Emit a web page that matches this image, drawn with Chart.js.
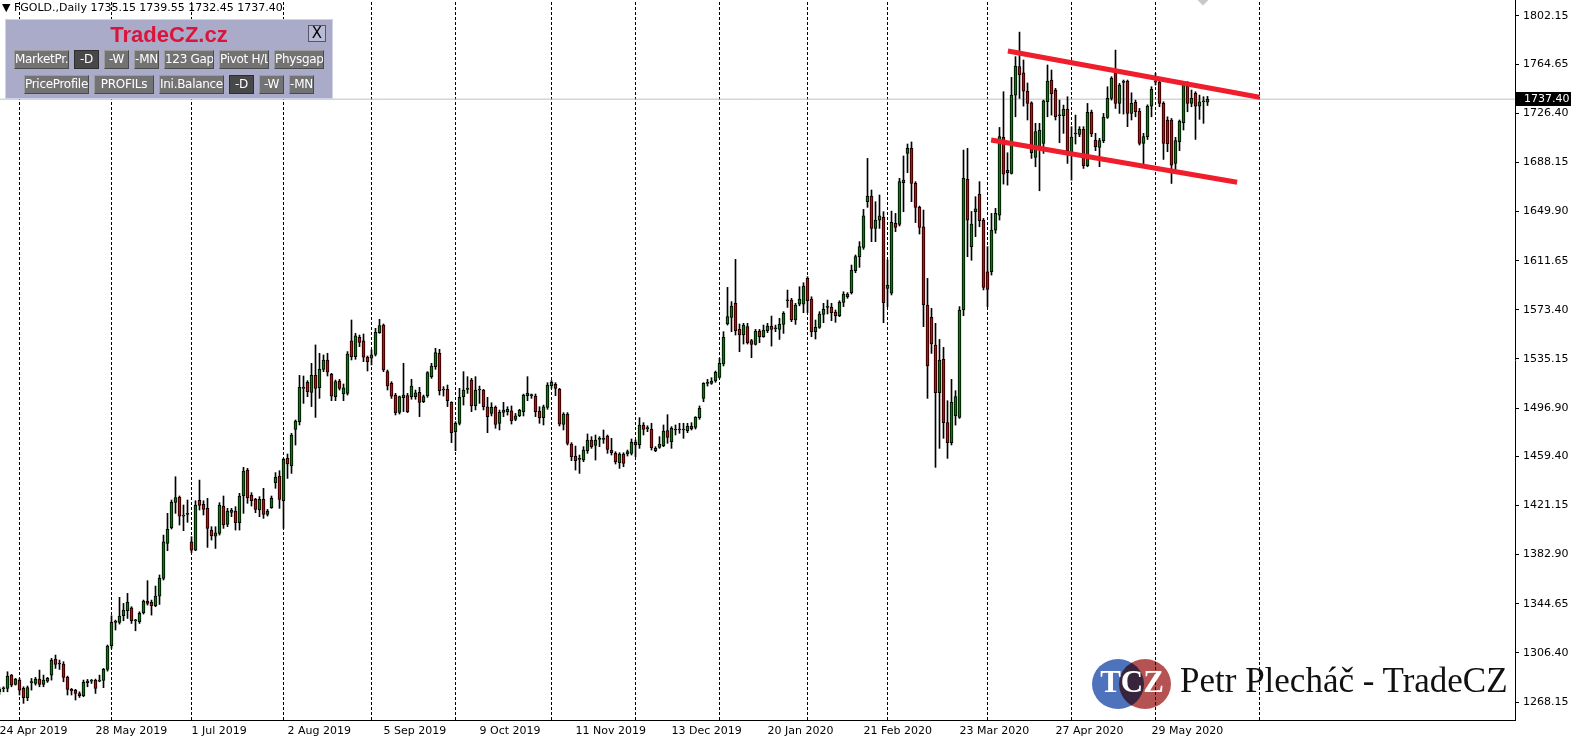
<!DOCTYPE html>
<html><head><meta charset="utf-8">
<script src="https://cdn.jsdelivr.net/npm/chart.js@4.4.1/dist/chart.umd.min.js"></script>
<style>
html,body{margin:0;padding:0;background:#fff;overflow:hidden}
#wrap{position:relative;width:1572px;height:740px;overflow:hidden}
canvas{position:absolute;left:0;top:0}
.ov{position:absolute;white-space:nowrap}
#hdr{left:2px;top:1px;font:11px "DejaVu Sans",sans-serif;color:#000}
#panel{left:5px;top:19px;width:328px;height:80px;background:#a9abc8;border:1px solid #d0d2e6;box-sizing:border-box}
#title{left:0;width:326px;top:2px;text-align:center;font:bold 22px "Liberation Sans",Arial,sans-serif;color:#dc143c}
#xbtn{left:302px;top:5px;width:18px;height:17px;background:#b9bbd6;border:1px solid #55566a;box-sizing:border-box;font:15px "DejaVu Sans",sans-serif;line-height:15px;text-align:center;color:#000}
.btn{position:absolute;height:19px;background:#737373;border-top:1px solid #9c9c9c;border-left:1px solid #9c9c9c;border-right:1px solid #4a4a4a;border-bottom:1px solid #4a4a4a;box-sizing:border-box;color:#fff;font:12px "DejaVu Sans",sans-serif;line-height:17px;text-align:center;overflow:hidden;white-space:nowrap;letter-spacing:-0.3px}
.btn.sel{background:#484848;border-color:#2e2e2e}
#logoTxt{left:1180px;top:661px;font:35px "Liberation Serif","DejaVu Serif",serif;color:#111}
.circ{position:absolute;width:52px;height:50px;border-radius:50%;mix-blend-mode:multiply}
#tcz{left:1093px;top:664px;width:78px;text-align:center;font:bold 31px "Liberation Serif",serif;color:#fff}
#diam{left:1197px;top:-9px;width:12px;height:12px;background:#c8c8c8;transform:rotate(45deg)}
</style></head><body>
<div id="wrap">
<canvas id="c" width="1572" height="740"></canvas>
<div id="hdr" class="ov"></div>
<div id="diam" class="ov"></div>
<div id="panel" class="ov">
  <div id="title" class="ov">TradeCZ.cz</div>
  <div id="xbtn" class="ov">X</div>
  <div class="btn" style="left:8px;top:30px;width:55px">MarketPr.</div>
  <div class="btn sel" style="left:68px;top:30px;width:25px">-D</div>
  <div class="btn" style="left:98px;top:30px;width:25px">-W</div>
  <div class="btn" style="left:128px;top:30px;width:25px">-MN</div>
  <div class="btn" style="left:158px;top:30px;width:50px">123 Gap</div>
  <div class="btn" style="left:213px;top:30px;width:50px">Pivot H/L</div>
  <div class="btn" style="left:268px;top:30px;width:50px">Physgap</div>
  <div class="btn" style="left:18px;top:55px;width:65px">PriceProfile</div>
  <div class="btn" style="left:88px;top:55px;width:60px">PROFILs</div>
  <div class="btn" style="left:153px;top:55px;width:65px">Ini.Balance</div>
  <div class="btn sel" style="left:223px;top:55px;width:25px">-D</div>
  <div class="btn" style="left:253px;top:55px;width:25px">-W</div>
  <div class="btn" style="left:283px;top:55px;width:25px">-MN</div>
</div>
<div class="circ" style="left:1092px;top:659px;background:#4f72bd"></div>
<div class="circ" style="left:1119px;top:659px;background:#b55252"></div>
<div id="tcz" class="ov">TCZ</div>
<div id="logoTxt" class="ov">Petr Plecháč - TradeCZ</div>
</div>
<script>
// ---- data (daily FGOLD candles, bar index 0 = 24 Apr 2019) ----
const symbol = "FGOLD.";
const timeframe = "Daily";
const opens = [
1276.1,1278.5,1278.7,1289.1,1281.9,1285.2,1278.7,1271.5,1283.2,1282.6,
1286.0,1281.9,1284.4,1289.1,1301.6,1297.7,1297.7,1287.3,1278.0,1277.4,
1274.8,1273.0,1283.2,1284.4,1285.2,1284.4,1285.0,1293.5,1312.0,1330.1,
1330.1,1335.3,1339.2,1341.5,1331.4,1330.6,1337.6,1346.7,1345.7,1343.1,
1350.6,1364.4,1391.6,1403.8,1423.5,1427.4,1412.9,1414.2,1392.9,1386.4,
1425.1,1422.0,1418.9,1402.0,1397.3,1399.4,1420.7,1406.4,1415.8,1416.8,
1407.7,1428.5,1448.7,
1429.3,1425.9,1417.6,1425.9,1414.2,1419.4,1438.9,
1444.1,1424.9,1457.8,1451.9,1480.4,1486.4,1512.3,1517.0,1509.2,1522.4,
1512.8,1527.1,1534.4,1523.2,1505.8,1518.0,1507.9,1508.4,1549.2,1537.0,
1552.0,1549.2,1536.5,1535.7,1538.8,1555.7,1561.6,1525.3,1516.2,1507.1,
1493.6,1505.1,1506.6,1505.8,1505.8,1509.2,1501.9,1506.6,1521.4,1529.2,
1539.6,1511.0,1511.5,1501.4,1478.6,1485.1,1505.8,1511.5,1518.8,1498.8,
1511.0,1511.0,1498.0,
1492.8,1497.5,1485.1,1493.6,1494.1,1494.9,1488.2,
1491.0,1494.1,1506.6,1506.6,1506.3,1494.7,1489.5,1497.5,1514.4,1515.4,
1511.5,1484.3,1492.3,1469.0,1459.6,1457.0,1456.5,1463.8,1472.1,1467.9,
1472.6,1472.6,1475.2,1464.3,1461.7,1454.4,1461.2,1461.2,1461.7,1470.3,
1468.2,1483.8,1480.9,1480.4,1463.8,1466.4,1467.7,1479.4,1470.8,1479.9,
1479.9,1479.9,1479.4,1483.0,1481.9,1489.5,1504.5,1516.2,1516.2,1518.0,
1520.9,1531.3,1562.4,
1567.6,1578.5,1558.2,1553.8,1560.3,1549.4,1546.5,
1556.9,1552.5,1557.2,1560.8,1558.7,1558.2,1562.1,1580.5,1581.0,1565.5,
1577.9,1577.9,1597.9,1581.8,1556.4,1559.8,1569.9,1575.3,1575.3,1571.7,
1568.9,1579.2,1585.7,1586.8,1603.9,1614.8,1622.1,1657.6,1662.0,1636.8,
1643.3,1645.4,1590.1,1586.3,1640.7,1640.0,1672.4,1695.2,1699.1,1671.9,
1653.2,1638.1,1577.2,1567.6,1546.0,1508.9,1534.9,1485.6,1470.0,1491.0,
1489.7,1573.3,1675.0,1622.6,1649.8,1663.3,1643.3,1603.1,1603.1,1635.5,
1647.2,1707.7,1680.1,1679.6,1740.6,1762.7,1758.0,1743.7,1734.6,1692.1,
1699.1,1703.0,1735.4,1752.3,1744.5,1724.5,1724.5,1729.5,1696.2,1710.3,
1710.0,1713.9,1685.6,1727.1,1705.6,1699.9,1705.1,1723.2,1738.0,1757.5,
1734.1,1750.5,1751.5,1726.3,1734.9,1728.2,1703.0,1708.2,1732.0,1750.7,
1750.7,1734.1,1721.2,1721.2,1687.4,1704.3,1719.1,1747.6,1734.1,1741.9,
1732.0,1735.4,1735.15];
const highs = [
1279.3,1280.0,1291.7,1289.6,1286.5,1286.5,1280.0,1280.6,1286.5,1287.3,
1293.0,1289.1,1287.3,1302.1,1304.7,1300.8,1299.5,1288.3,1278.7,1278.0,
1276.1,1285.2,1285.7,1285.7,1286.0,1289.1,1294.3,1312.5,1335.3,1331.9,
1349.6,1344.9,1352.7,1342.3,1332.5,1338.4,1347.5,1362.6,1347.5,1358.4,
1367.0,1398.1,1415.0,1425.4,1443.5,1428.5,1421.5,1425.4,1396.8,1424.8,
1440.9,1424.8,1426.7,1404.6,1404.6,1423.3,1428.5,1418.9,1418.9,1420.2,
1430.6,1450.8,1450.0,
1431.1,1426.7,1428.0,1434.5,1418.1,1428.5,1446.7,
1448.2,1457.8,1461.2,1477.3,1487.7,1522.4,1521.9,1518.3,1531.8,1546.1,
1539.6,1538.3,1539.6,1524.0,1518.8,1519.3,1515.7,1540.9,1565.5,1555.1,
1553.8,1554.6,1537.5,1542.2,1559.0,1566.0,1562.4,1526.6,1517.5,1508.4,
1506.3,1531.8,1508.4,1519.3,1511.0,1513.1,1507.1,1525.3,1531.8,1543.5,
1542.7,1513.6,1514.9,1501.9,1486.4,1512.3,1525.3,1521.4,1520.1,1521.4,
1514.1,1511.5,1505.3,
1501.1,1498.6,1495.4,1501.4,1498.0,1498.6,1492.8,
1496.0,1507.8,1521.4,1507.9,1507.9,1498.0,1499.3,1516.7,1518.3,1516.7,
1512.3,1493.4,1493.4,1470.0,1467.4,1460.4,1466.9,1476.8,1474.7,1476.0,
1474.7,1479.9,1476.0,1473.4,1463.0,1462.2,1462.2,1464.3,1472.9,1472.1,
1489.5,1485.6,1483.2,1485.1,1466.9,1474.7,1483.8,1491.8,1482.5,1483.8,
1485.1,1485.1,1485.1,1485.6,1490.3,1498.6,1516.7,1519.3,1520.6,1525.8,
1535.7,1556.4,1590.9,
1579.8,1612.7,1562.4,1562.9,1562.9,1550.4,1558.2,
1558.2,1561.6,1562.9,1568.6,1561.6,1566.8,1572.0,1588.8,1582.4,1578.5,
1591.4,1594.5,1599.2,1583.6,1565.5,1572.0,1578.5,1581.0,1578.5,1573.3,
1580.5,1587.5,1586.8,1608.3,1616.1,1626.5,1651.6,1691.3,1666.7,1657.6,
1662.8,1649.8,1612.2,1650.3,1648.5,1675.8,1693.2,1702.5,1704.1,1673.2,
1654.2,1651.1,1597.9,1574.6,1562.9,1550.4,1544.2,1502.7,1519.3,1510.5,
1575.9,1697.8,1699.1,1650.0,1661.5,1673.2,1644.6,1622.6,1648.5,1652.4,
1715.4,1743.2,1695.7,1754.4,1770.5,1789.6,1767.9,1750.0,1735.4,1718.6,
1718.6,1736.7,1764.0,1760.1,1745.8,1736.7,1732.8,1739.3,1716.0,1725.0,
1716.0,1716.0,1734.1,1728.9,1710.8,1706.9,1726.3,1747.1,1754.9,1775.6,
1749.7,1752.3,1752.3,1742.4,1736.7,1730.2,1710.8,1733.0,1747.1,1757.5,
1752.3,1735.4,1723.7,1722.4,1707.7,1721.2,1749.7,1751.0,1744.5,1743.2,
1740.6,1739.3,1739.55];
const lows = [
1274.1,1276.1,1276.1,1280.0,1281.3,1273.6,1267.1,1269.2,1277.4,1281.3,
1280.0,1280.0,1283.4,1285.2,1294.3,1293.5,1283.9,1273.6,1273.6,1269.7,
1271.7,1272.3,1280.0,1282.6,1274.8,1283.9,1279.3,1292.2,1309.9,1324.2,
1328.8,1331.4,1333.2,1329.3,1323.6,1329.3,1336.6,1343.6,1335.8,1342.3,
1344.1,1363.1,1385.9,1402.8,1415.0,1405.9,1401.5,1408.0,1384.4,1385.9,
1417.6,1413.7,1388.5,1394.2,1387.7,1398.1,1403.3,1404.6,1412.4,1402.0,
1402.0,1415.0,1422.8,
1420.7,1415.5,1412.4,1411.1,1412.9,1418.9,1434.5,
1418.9,1403.3,1442.2,1446.1,1468.2,1483.8,1500.6,1505.8,1498.1,1489.7,
1504.5,1525.3,1521.9,1502.7,1502.7,1511.0,1502.7,1507.1,1534.4,1534.9,
1544.8,1533.1,1525.8,1530.5,1537.5,1555.1,1525.3,1511.0,1504.5,1491.6,
1492.3,1494.2,1493.4,1503.8,1503.8,1490.3,1501.2,1505.3,1520.1,1527.1,
1507.1,1506.3,1498.1,1470.0,1463.8,1483.8,1499.3,1508.4,1494.2,1495.5,
1500.6,1495.5,1477.8,
1490.8,1481.2,1479.9,1490.3,1491.5,1484.5,1487.1,
1490.3,1490.8,1502.7,1504.5,1490.3,1485.1,1483.8,1496.0,1512.3,1506.6,
1483.0,1479.9,1468.2,1456.0,1448.7,1446.1,1455.2,1461.7,1465.6,1456.5,
1466.9,1469.5,1461.7,1460.4,1453.4,1450.0,1451.3,1459.6,1460.4,1459.1,
1465.6,1476.0,1478.6,1464.3,1463.0,1465.6,1466.9,1469.5,1465.6,1476.0,
1477.3,1473.4,1477.8,1479.9,1480.6,1488.2,1501.9,1514.1,1515.4,1517.0,
1520.1,1529.7,1561.6,
1556.4,1553.8,1540.8,1546.8,1546.8,1536.2,1546.0,
1547.8,1552.0,1555.6,1545.2,1556.4,1550.4,1555.1,1575.3,1564.2,1562.1,
1576.6,1571.2,1571.2,1552.5,1550.7,1559.0,1563.4,1570.2,1565.0,1563.7,
1568.1,1575.9,1582.4,1585.7,1602.3,1606.5,1620.5,1653.2,1626.5,1626.5,
1636.8,1563.4,1575.9,1585.0,1634.3,1638.7,1649.8,1680.2,1657.6,1641.3,
1632.4,1560.3,1504.5,1539.5,1450.8,1465.6,1473.4,1457.8,1468.2,1483.7,
1488.9,1568.9,1614.8,1612.0,1630.4,1638.1,1588.9,1575.9,1600.5,1633.0,
1643.3,1671.3,1670.5,1679.1,1723.7,1738.0,1732.0,1721.2,1691.3,1684.8,
1666.1,1695.2,1723.7,1725.0,1721.2,1703.5,1710.8,1687.4,1674.4,1702.5,
1708.2,1683.5,1684.8,1708.2,1697.3,1684.8,1703.5,1722.4,1736.7,1730.2,
1726.3,1725.8,1716.0,1721.2,1723.7,1701.7,1686.1,1706.0,1723.7,1748.4,
1731.5,1690.5,1696.5,1671.8,1682.2,1697.3,1713.4,1727.6,1731.5,1706.1,
1721.7,1718.6,1732.45];
const closes = [
1278.0,1278.6,1288.3,1281.3,1286.0,1277.4,1271.5,1279.3,1283.3,1286.0,
1281.9,1285.2,1286.5,1300.8,1297.4,1297.8,1287.3,1278.0,1276.9,1274.8,
1273.0,1283.4,1284.4,1284.5,1278.7,1284.5,1293.5,1311.7,1330.1,1330.2,
1335.1,1339.7,1345.7,1331.4,1331.5,1337.1,1346.7,1344.9,1343.1,1350.6,
1364.4,1392.9,1402.5,1423.5,1427.2,1412.9,1413.0,1414.3,1386.4,1421.5,
1421.2,1418.1,1403.3,1397.6,1399.9,1421.5,1405.9,1416.8,1417.6,1407.7,
1428.5,1447.9,1427.2,
1424.9,1418.1,1425.9,1414.2,1416.8,1426.7,1443.0,
1425.9,1457.0,1453.4,1476.0,1486.9,1513.1,1512.4,1509.7,1522.4,1512.3,
1527.1,1534.4,1524.8,1506.3,1517.5,1512.3,1512.8,1539.0,1537.0,1553.1,
1548.1,1536.5,1533.1,1538.3,1555.9,1561.1,1526.6,1514.1,1506.3,1493.4,
1505.8,1507.1,1494.2,1514.1,1508.9,1501.4,1505.8,1524.5,1529.7,1540.1,
1510.5,1511.1,1502.7,1477.8,1485.1,1505.3,1511.0,1511.6,1498.8,1511.0,
1511.1,1498.0,1490.3,
1497.5,1484.3,1493.6,1495.4,1496.0,1487.1,1491.0,
1495.4,1507.1,1508.4,1506.7,1494.1,1489.5,1498.0,1514.9,1517.0,1512.3,
1484.5,1492.3,1469.5,1459.1,1456.0,1457.1,1464.3,1472.1,1466.9,1472.1,
1472.7,1472.7,1464.8,1462.2,1455.2,1461.2,1453.9,1463.0,1470.3,1468.2,
1483.8,1480.4,1481.0,1466.1,1465.6,1469.0,1479.1,1474.2,1481.2,1480.0,
1480.0,1480.0,1483.0,1480.9,1489.7,1496.7,1516.2,1516.3,1518.0,1524.8,
1531.8,1552.0,1568.1,
1576.4,1557.2,1553.8,1561.6,1547.8,1546.5,1556.9,
1552.5,1557.7,1560.8,1558.2,1558.8,1562.1,1570.7,1580.6,1565.5,1577.2,
1581.8,1591.9,1580.5,1556.4,1559.8,1570.2,1573.8,1575.4,1571.2,1568.9,
1579.2,1585.7,1583.6,1604.4,1614.8,1622.6,1646.5,1662.0,1636.8,1643.3,
1646.5,1579.0,1592.7,1641.5,1637.6,1673.2,1674.5,1699.1,1671.9,1653.2,
1637.6,1577.2,1529.7,1546.8,1508.9,1534.3,1485.6,1470.0,1501.4,1505.8,
1573.3,1675.8,1643.3,1640.2,1652.0,1642.8,1590.9,1589.4,1635.5,1648.5,
1708.2,1679.1,1682.0,1740.6,1763.2,1756.2,1743.7,1734.1,1695.7,1712.1,
1713.4,1736.2,1751.5,1741.4,1723.7,1724.6,1729.5,1697.3,1707.9,1710.4,
1713.9,1685.6,1727.1,1710.3,1700.4,1705.1,1723.2,1738.0,1753.6,1734.1,
1748.4,1750.6,1726.3,1734.1,1727.6,1703.0,1708.2,1732.1,1745.0,1750.8,
1734.1,1703.0,1702.5,1686.1,1705.1,1720.4,1748.4,1734.1,1738.0,1732.0,
1735.4,1735.5,1737.40];
// time axis labels (bar index -> text)
const dateLabelBars = [0,24,48,72,96,120,144,168,192,216,240,264,288];
const dateLabels = ["24 Apr 2019","28 May 2019","1 Jul 2019","2 Aug 2019","5 Sep 2019","9 Oct 2019","11 Nov 2019","13 Dec 2019","20 Jan 2020","21 Feb 2020","23 Mar 2020","27 Apr 2020","29 May 2020"];
// first bar of each month (period separators)
const monthStartBars = [5,28,48,71,93,114,138,159,180,202,222,247,268,289,315];
// price scale labels
const priceTicks = [1802.15,1764.65,1726.40,1688.15,1649.90,1611.65,1573.40,1535.15,1496.90,1459.40,1421.15,1382.90,1344.65,1306.40,1268.15];
// hand-drawn channel (bar index, price)
const upperChannelBars = [252.1, 315.0];
const upperChannelPrices = [1774.9, 1738.9];
const lowerChannelBars = [247.9, 309.4];
const lowerChannelPrices = [1705.6, 1672.7];

// ---- view settings ----
const X_MIN = 0.125, X_MAX = 378.875;
const Y_MIN = 1254.14, Y_MAX = 1814.60;
const BULL = '#008200', BEAR = '#e00000';

const N = opens.length;
const last = N - 1;
document.getElementById('hdr').textContent =
  '\u25BC ' + symbol + ',' + timeframe + '  ' + opens[last].toFixed(2) + ' ' + highs[last].toFixed(2) + ' ' + lows[last].toFixed(2) + ' ' + closes[last].toFixed(2);

const bodies = opens.map((o,i)=>({x:i, y:[o, closes[i]]}));
const wicks = lows.map((l,i)=>({x:i, y:[l, highs[i]]}));
const bodyColors = opens.map((o,i)=> closes[i] >= o ? BULL : BEAR);
const sepData = [];
monthStartBars.forEach(m=>{ sepData.push({x:m,y:Y_MIN},{x:m,y:Y_MAX},{x:m,y:null}); });
const upper = upperChannelBars.map((b,i)=>({x:b,y:upperChannelPrices[i]}));
const lower = lowerChannelBars.map((b,i)=>({x:b,y:lowerChannelPrices[i]}));
const priceLine = [{x:X_MIN,y:closes[last]},{x:X_MAX,y:closes[last]}];
const labelMap = {};
dateLabelBars.forEach((b,i)=> labelMap[b] = dateLabels[i]);

const priceBox = {
  id:'priceBox',
  afterDraw(chart){
    const {ctx, chartArea, scales} = chart;
    const y = Math.round(scales.y.getPixelForValue(closes[last]));
    ctx.save();
    ctx.fillStyle = '#000';
    ctx.fillRect(chartArea.right + 1, y - 7, 55, 14);
    ctx.fillStyle = '#fff';
    ctx.font = '11px "DejaVu Sans", sans-serif';
    ctx.textBaseline = 'middle';
    ctx.textAlign = 'left';
    ctx.fillText(closes[last].toFixed(2), chartArea.right + 9, y + 0.5);
    ctx.restore();
  }
};
const noPad = (s)=>{ s.paddingLeft = 0; s.paddingRight = 0; s.paddingTop = 0; s.paddingBottom = 0; };

new Chart(document.getElementById('c'), {
  type:'bar',
  data:{datasets:[
    {type:'line', data:upper, borderColor:'#f01e2c', borderWidth:5, pointRadius:0, borderCapStyle:'butt', order:0},
    {type:'line', data:lower, borderColor:'#f01e2c', borderWidth:5, pointRadius:0, borderCapStyle:'butt', order:1},
    {data:bodies, backgroundColor:bodyColors, borderColor:'#000', borderWidth:1, borderSkipped:false, barThickness:3, minBarLength:1, grouped:false, order:2},
    {data:wicks, backgroundColor:'#000', borderWidth:0, barThickness:1, minBarLength:1, grouped:false, order:3},
    {type:'line', data:priceLine, borderColor:'#c0c0c0', borderWidth:1, pointRadius:0, order:4},
    {type:'line', data:sepData, borderColor:'#000', borderWidth:1, borderDash:[3,2], pointRadius:0, spanGaps:false, order:5}
  ]},
  options:{
    responsive:false, animation:false, devicePixelRatio:1,
    layout:{padding:0, autoPadding:false},
    plugins:{legend:{display:false}, tooltip:{enabled:false}},
    scales:{
      x:{type:'linear', min:X_MIN, max:X_MAX, offset:false,
        grid:{display:true, drawOnChartArea:false, drawTicks:false},
        border:{display:true, color:'#000', width:1},
        ticks:{align:'start', maxRotation:0, autoSkip:false, padding:5, color:'#000',
          font:{family:'"DejaVu Sans", sans-serif', size:11},
          callback:(v)=> labelMap[v] || ''},
        afterBuildTicks:(s)=>{ s.ticks = dateLabelBars.map(v=>({value:v})); },
        afterFit:(s)=>{ s.height = 20; noPad(s); }
      },
      y:{type:'linear', position:'right', min:Y_MIN, max:Y_MAX,
        grid:{display:true, drawOnChartArea:false, drawTicks:true, tickLength:4, color:'#000'},
        border:{display:true, color:'#000', width:1},
        ticks:{autoSkip:false, padding:4, color:'#000',
          font:{family:'"DejaVu Sans", sans-serif', size:11},
          callback:(v)=> Number(v).toFixed(2)},
        afterBuildTicks:(s)=>{ s.ticks = priceTicks.map(v=>({value:v})); },
        afterFit:(s)=>{ s.width = 57; noPad(s); }
      }
    }
  },
  plugins:[priceBox]
});
</script>
</body></html>
